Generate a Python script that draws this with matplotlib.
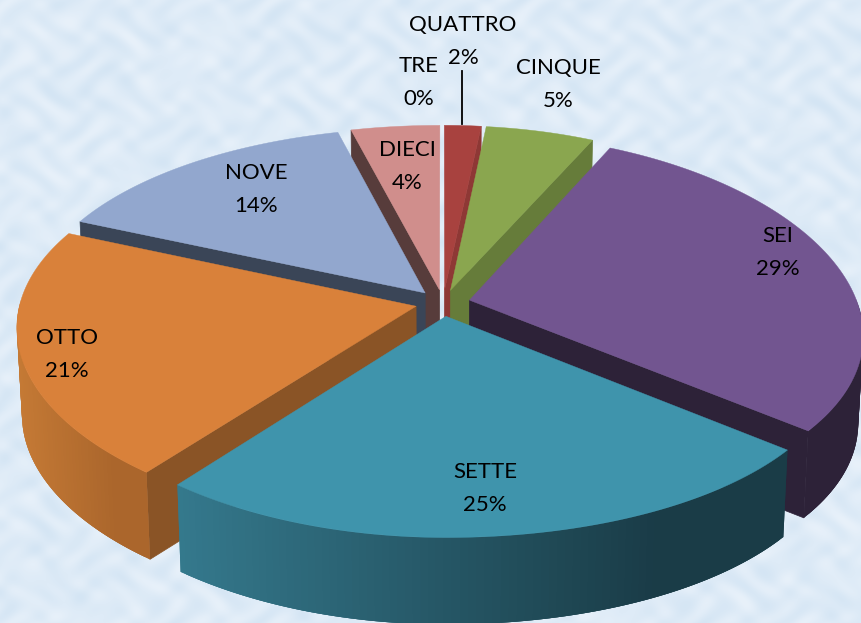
import numpy as np
import matplotlib
matplotlib.use('Agg')
import matplotlib.pyplot as plt
from matplotlib.patches import Polygon

names = ['TRE', 'QUATTRO', 'CINQUE', 'SEI', 'SETTE', 'OTTO', 'NOVE', 'DIECI']
values = [0, 1.8, 5.3, 28.9, 24.6, 21, 14.4, 4.0]

top_colors = ['#4f81bd', '#a8423f', '#8aa64f', '#725590', '#3f94ac', '#d9813a', '#92a7ce', '#d08e8c']
wall_colors = ['#2f4d71', '#8e3835', '#667c3a', '#2d2238', '#1a3c47', '#8a5426', '#3a4557', '#573c3b']
# outer wall colour at the left and right end of each slice
edge_left = ['#2f4d71', '#8e3835', '#667c3a', '#2d2238', '#357a8e', '#c57a35', '#3a4557', '#573c3b']
edge_right = ['#2f4d71', '#8e3835', '#667c3a', '#2d2238', '#1a3c47', '#ab662c', '#3a4557', '#573c3b']

label_x = [419, 463, 558, 778, 485, 67, 256, 407]
label_y = [82, 41, 84, 252, 488, 354, 189, 166]

cx, cy = 443, 303
ry = 189
persp_y = 0.129
depth = 87
explode = 0.07


def project(x, y, z=0.0):
    # y is towards the viewer, z = 1 is the bottom of the slab
    # the picture is not quite symmetric, so each half has its own x scale
    rx, persp_x = (396, 0.105) if x < 0 else (388, 0.175)
    sx = 1 / (1 - persp_x * y)
    sy = 1 / (1 - persp_y * y)
    return cx + rx * x * sx * (1 - 0.012 * z), cy + ry * y * sy + depth * z


def hexmix(a, b, f):
    ca = np.array(matplotlib.colors.to_rgb(a))
    cb = np.array(matplotlib.colors.to_rgb(b))
    return tuple(ca + (cb - ca) * f)


fig = plt.figure(figsize=(8.61, 6.23), dpi=100)
ax = fig.add_axes([0, 0, 1, 1])
ax.set_xlim(0, 861)
ax.set_ylim(623, 0)
ax.axis('off')

# mottled paper background
yy, xx = np.mgrid[0:623, 0:861]
tex = (np.sin(xx / 6.0 + np.sin(yy / 11.0) * 3) + np.sin(yy / 5.0 + np.sin(xx / 14.0) * 3)
       + np.sin(xx / 29.0 + np.sin(yy / 37.0) * 4) * np.sin(yy / 23.0 + np.sin(xx / 41.0) * 4))
tex = tex / 3.0
bg = np.dstack([222 + 10 * tex, 235 + 6 * tex, 247 + 3 * tex]) / 255
ax.imshow(np.clip(bg, 0, 1), extent=(0, 861, 623, 0), aspect='auto', zorder=0)

total = sum(values)
cuts = np.cumsum([0] + values) / total * 2 * np.pi
slices = []
for i in range(len(values)):
    if values[i] > 0:
        t0, t1 = cuts[i], cuts[i + 1]
        mid = (t0 + t1) / 2
        slices.append((-np.cos(mid), i, t0, t1))

# back slices first
slices.sort()
zo = 2
for _, i, t0, t1 in slices:
    mid = (t0 + t1) / 2
    ox, oy = explode * np.sin(mid), -explode * np.cos(mid)
    ts = np.linspace(t0, t1, 90)
    wx, wy = ox + np.sin(ts), oy - np.cos(ts)

    # radial walls, only the ones that face us
    for t, side in ((t0, -1), (t1, 1)):
        if side * np.sin(t) > 0:
            ex, ey = ox + np.sin(t), oy - np.cos(t)
            pts = [project(ox, oy), project(ex, ey), project(ex, ey, 1), project(ox, oy, 1)]
            ax.add_patch(Polygon(pts, closed=True, fc=wall_colors[i], ec=wall_colors[i], lw=0.5, zorder=zo))
            zo += 1

    # outer wall in thin strips, each one overlaps the next so no seams show
    xs = [project(a, b)[0] for a, b in zip(wx, wy)]
    lo, hi = min(xs), max(xs)
    order = np.argsort(xs)
    for k in order:
        if k >= len(ts) - 1 or wy[k] + wy[k + 1] < 0:
            continue
        k2 = min(k + 2, len(ts) - 1)
        k0 = max(k - 1, 0)
        f = min(1, (xs[k] - lo) / max(hi - lo, 1) / 0.8)
        c = hexmix(edge_left[i], edge_right[i], f)
        pts = [project(wx[k0], wy[k0]), project(wx[k2], wy[k2]),
               project(wx[k2], wy[k2], 1), project(wx[k0], wy[k0], 1)]
        ax.add_patch(Polygon(pts, closed=True, fc=c, ec='none', zorder=zo))
    zo += 1

    top = [project(ox, oy)] + [project(a, b) for a, b in zip(wx, wy)]
    ax.add_patch(Polygon(top, closed=True, fc=top_colors[i], ec=top_colors[i], lw=0.3, zorder=zo))
    zo += 1

# leader line of QUATTRO
ax.plot([462, 462], [71, 124], color='black', lw=1.3, zorder=zo)

for name, v, lx, ly in zip(names, values, label_x, label_y):
    ax.text(lx, ly - 16, name, ha='center', va='center', fontsize=16, family='Lato', color='black', zorder=zo + 1)
    ax.text(lx, ly + 17, f'{round(v)}%', ha='center', va='center', fontsize=16, family='Lato', color='black', zorder=zo + 1)

fig.savefig('out.png', dpi=100)
